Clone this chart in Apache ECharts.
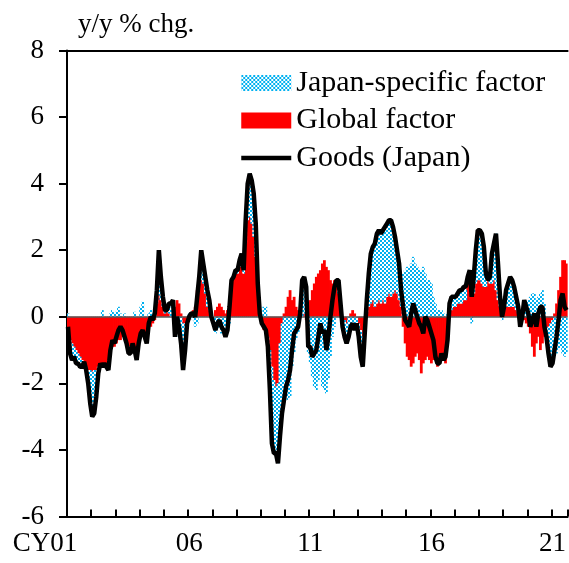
<!DOCTYPE html>
<html>
<head>
<meta charset="utf-8">
<script src="https://cdn.jsdelivr.net/npm/echarts@6/dist/echarts.min.js"></script>
<style>
html,body{margin:0;padding:0;background:#fff;}
#chart{width:569px;height:563px;}
</style>
</head>
<body>
<div id="chart"></div>
<script>
// Monthly, Jan 2001 - Aug 2021, y/y % chg.
const goods = [
 -0.3,-1.1,-1.3,-1.2,-1.4,-1.4,-1.5,-1.5,-1.35,-1.6,-2.0,-2.6,
 -3.0,-2.9,-2.4,-1.7,-1.4,-1.5,-1.4,-1.5,-1.6,-1.0,-0.7,-0.8,
 -0.6,-0.4,-0.3,-0.4,-0.6,-0.8,-1.1,-1.1,-0.8,-1.0,-1.3,-0.8,
 -0.5,-0.4,-0.6,-0.8,-0.2,0.0,-0.1,0.1,0.8,2.0,1.2,0.6,
 0.2,0.2,0.4,0.4,0.5,-0.6,0.0,-0.3,-0.8,-1.6,-1.0,-0.2,
 0.0,0.1,0.1,0.0,0.6,1.2,2.0,1.6,1.2,0.8,0.5,0.0,
 -0.2,-0.4,-0.2,-0.1,-0.3,-0.4,-0.6,-0.4,0.3,1.1,1.2,1.4,
 1.4,1.7,1.9,1.4,2.9,4.0,4.3,4.1,3.7,2.8,1.0,0.1,
 -0.2,-0.3,-0.4,-0.9,-2.2,-3.8,-4.1,-4.1,-4.4,-3.6,-2.9,-2.5,
 -2.1,-1.9,-1.6,-1.0,-0.5,-0.4,-0.3,0.1,1.1,1.2,0.9,-0.9,
 -0.9,-1.2,-1.1,-1.0,-0.6,-0.2,-0.5,-0.4,-1.0,-0.6,0.0,0.5,
 0.9,1.1,1.1,0.4,-0.3,-0.6,-0.8,-0.6,-0.3,-0.2,-0.4,-0.2,
 -0.6,-1.2,-1.5,-0.5,0.5,1.3,1.9,2.1,2.2,2.5,2.6,2.5,
 2.6,2.7,2.8,2.9,2.9,2.7,2.4,2.0,1.6,0.8,0.3,-0.1,
 -0.2,-0.3,0.1,0.4,0.2,0.0,-0.2,-0.3,-0.5,0.0,-0.1,-0.3,
 -0.5,-0.7,-1.2,-1.4,-1.4,-1.1,-1.3,-1.2,-0.7,0.4,0.6,0.6,
 0.6,0.7,0.8,0.8,0.9,0.9,1.2,1.4,0.6,1.2,2.0,2.6,
 2.6,2.5,2.1,1.3,1.1,1.2,1.9,2.2,2.5,1.6,0.6,0.0,
 0.3,0.8,1.0,1.2,1.1,0.9,0.6,0.3,-0.3,0.0,0.5,0.3,
 0.1,-0.3,-0.1,0.1,-0.3,0.1,0.3,0.3,-0.3,-0.6,-1.1,-1.5,
 -1.4,-1.0,-0.6,-0.1,0.5,0.7,0.3,0.2
];
const globalFactor = [
 -0.5,-0.7,-0.8,-0.9,-1.0,-1.1,-1.2,-1.3,-1.4,-1.5,-1.6,-1.6,
 -1.65,-1.6,-1.6,-1.5,-1.4,-1.4,-1.4,-1.4,-1.3,-1.0,-0.9,-0.9,
 -0.8,-0.7,-0.7,-0.6,-0.7,-0.8,-0.9,-0.9,-0.8,-0.9,-1.0,-0.8,
 -0.6,-0.5,-0.5,-0.5,-0.3,-0.3,-0.2,-0.1,0.4,0.65,0.5,0.3,
 0.1,0.2,0.1,0.0,0.1,0.3,0.5,0.4,0.1,-0.2,-0.2,-0.1,
 -0.1,0.0,0.2,0.3,0.8,1.0,1.1,1.0,0.7,0.3,0.2,0.1,
 0.0,0.2,0.3,0.4,0.3,0.2,0.1,0.2,0.6,1.0,1.2,1.3,
 1.3,1.5,1.6,1.3,2.2,2.9,3.0,2.8,2.4,1.8,0.8,0.0,
 -0.2,-0.4,-0.5,-0.6,-1.0,-1.5,-1.9,-2.1,-2.0,-0.8,-0.2,0.1,
 0.3,0.6,0.8,0.5,0.6,0.3,0.2,0.1,0.0,0.1,-0.1,0.2,
 0.5,0.8,1.0,1.2,1.3,1.4,1.6,1.7,1.5,1.4,1.1,1.0,
 1.1,0.9,0.7,0.3,0.0,-0.1,-0.2,0.0,0.1,0.2,0.1,0.0,
 -0.2,-0.4,-0.6,-0.3,0.1,0.3,0.4,0.5,0.3,0.4,0.5,0.4,
 0.5,0.4,0.6,0.7,0.6,0.7,0.8,0.7,0.5,0.3,-0.3,-0.8,
 -1.2,-1.3,-1.5,-1.4,-1.2,-1.1,-1.3,-1.7,-1.4,-1.3,-1.2,-1.3,
 -1.4,-1.3,-1.2,-1.5,-1.4,-1.3,-1.3,-1.4,-0.6,0.0,0.2,0.3,
 0.3,0.4,0.4,0.4,0.5,0.5,1.0,1.1,0.8,0.7,1.0,1.1,
 1.1,1.0,0.9,0.9,1.1,1.0,1.0,1.1,0.8,0.5,0.3,0.2,
 0.2,0.3,0.3,0.3,0.3,0.3,0.2,0.1,0.1,0.0,-0.1,-0.2,
 -0.3,-0.5,-0.9,-1.2,-0.8,-0.6,-1.0,-0.8,-0.6,-0.4,-0.3,-0.2,
 -0.1,0.1,0.4,0.8,1.2,1.7,1.7,1.6
];
const japanFactor = [
 0.1,-0.3,-0.4,-0.4,-0.4,-0.3,-0.3,-0.2,0.0,-0.1,-0.4,-1.0,
 -1.3,-1.3,-0.8,-0.2,0.0,0.2,0.0,-0.1,-0.3,0.1,0.2,0.1,
 0.15,0.3,0.1,0.0,0.1,0.0,-0.2,-0.2,0.0,0.15,-0.3,0.0,
 0.3,0.45,-0.1,-0.2,0.1,0.2,0.1,0.1,0.4,1.2,0.6,0.2,
 0.1,0.0,0.3,0.2,0.3,-0.6,-0.3,-0.6,-0.7,-1.2,-0.6,0.0,
 0.1,0.1,-0.1,-0.3,-0.2,0.2,0.9,0.6,0.5,0.5,0.3,-0.1,
 -0.2,-0.5,-0.4,-0.3,-0.5,-0.5,-0.5,-0.4,-0.2,0.1,0.0,0.1,
 0.1,0.2,0.3,0.1,0.7,1.1,1.3,1.3,1.3,1.0,0.2,0.1,
 0.0,0.3,0.3,-0.3,-1.2,-2.3,-2.2,-2.0,-2.4,-2.8,-2.7,-2.6,
 -2.4,-2.5,-2.4,-1.5,-1.1,-0.7,-0.5,0.0,0.9,1.0,0.8,-1.1,
 -1.4,-1.8,-2.1,-2.2,-1.9,-1.6,-2.1,-2.2,-2.3,-1.9,-1.2,-0.6,
 -0.3,0.1,0.4,0.2,-0.4,-0.5,-0.6,-0.5,-0.3,-0.3,-0.4,-0.2,
 -0.4,-0.8,-0.9,-0.2,0.4,1.0,1.5,1.6,1.9,2.1,2.1,2.1,
 2.1,2.3,2.2,2.2,2.3,2.0,1.6,1.3,1.1,0.9,1.3,1.4,
 1.5,1.5,1.6,1.8,1.6,1.5,1.4,1.4,1.5,1.3,1.1,1.1,
 1.0,0.6,0.4,0.2,0.2,0.2,0.1,0.0,0.1,0.3,0.4,0.3,
 0.3,0.3,0.4,0.4,0.4,0.3,0.2,0.3,-0.2,0.4,1.0,1.5,
 1.5,1.5,1.2,0.4,0.0,0.2,0.9,1.1,1.7,1.1,0.3,-0.1,
 0.1,0.5,0.6,0.8,0.6,0.5,0.4,0.3,-0.3,0.1,0.5,0.5,
 0.5,0.6,0.7,0.7,0.5,0.6,0.7,0.8,0.4,-0.2,-0.8,-1.2,
 -1.2,-1.2,-1.1,-1.0,-0.9,-1.1,-1.2,-1.1
];
const tickLabels = ['CY01', '06', '11', '16', '21'];
const seriesNames = ['Japan-specific factor', 'Global factor', 'Goods (Japan)'];

const months = [];
for (let i = 0; i < goods.length; i++) {
  const y = 2001 + Math.floor(i / 12), m = (i % 12) + 1;
  months.push(y + '-' + (m < 10 ? '0' + m : m));
}

// checkered pattern for Japan-specific factor
const pc = document.createElement('canvas');
pc.width = 4; pc.height = 4;
const pctx = pc.getContext('2d');
pctx.fillStyle = '#ffffff'; pctx.fillRect(0, 0, 4, 4);
pctx.fillStyle = '#00B0F0';
pctx.fillRect(0, 0, 2, 2); pctx.fillRect(2, 2, 2, 2);

const FONT = 'Liberation Serif';
const chart = echarts.init(document.getElementById('chart'), null, {renderer: 'canvas'});
chart.setOption({
  animation: false,
  backgroundColor: '#ffffff',
  grid: {left: 67, right: 0, top: 50.5, bottom: 46.5, containLabel: false},
  legend: {
    orient: 'vertical', left: 234, top: 63, itemWidth: 50, itemHeight: 16, itemGap: 7.5,
    selectedMode: false,
    data: [
      {name: seriesNames[0], icon: 'rect'},
      {name: seriesNames[1], icon: 'rect'},
      {name: seriesNames[2], itemStyle: {opacity: 0, borderWidth: 0}, lineStyle: {color: '#000', width: 4.5}}
    ],
    textStyle: {fontFamily: FONT, fontSize: 30, color: '#000'}
  },
  xAxis: [{
    type: 'category', data: months, boundaryGap: true, position: 'bottom',
    axisLine: {show: true, onZero: false, lineStyle: {color: '#000', width: 2}},
    axisTick: {show: true, inside: true, length: 7, lineStyle: {color: '#000', width: 2},
      interval: function (idx) { return idx % 12 === 0; }},
    axisLabel: {
      show: true, margin: 14, interval: function (idx) { return idx % 60 === 0; },
      formatter: function (v, idx) {
        const k = Math.round(idx / 60);
        return idx === 0 ? '{cy|' + tickLabels[k] + '}' : '{n|' + tickLabels[k] + '}';
      },
      rich: {
        cy: {fontFamily: FONT, fontSize: 27, color: '#000', padding: [0, 46, 0, 0]},
        n: {fontFamily: FONT, fontSize: 27, color: '#000'}
      }
    },
    splitLine: {show: false}
  }, {
    type: 'category', data: months, position: 'top', boundaryGap: true,
    axisLine: {show: true, onZero: false, lineStyle: {color: '#000', width: 2}},
    axisTick: {show: false}, axisLabel: {show: false}, splitLine: {show: false}
  }],
  yAxis: {
    type: 'value', min: -6, max: 8, interval: 2,
    name: 'y/y % chg.', nameLocation: 'end', nameGap: 12,
    nameTextStyle: {fontFamily: FONT, fontSize: 27, color: '#000', align: 'left', padding: [0, 0, 0, 11]},
    axisLine: {show: true, onZero: false, lineStyle: {color: '#000', width: 2}},
    axisTick: {show: true, inside: false, length: 8, lineStyle: {color: '#000', width: 2}},
    axisLabel: {fontFamily: FONT, fontSize: 27, color: '#000', margin: 23},
    splitLine: {show: false}
  },
  series: [{
    name: seriesNames[1], type: 'bar', stack: 'f', stackStrategy: 'samesign',
    data: globalFactor, barWidth: 2.8,
    itemStyle: {color: '#FF0000'},
    markLine: {silent: true, symbol: 'none', label: {show: false},
      lineStyle: {color: '#595959', width: 1.5, type: 'solid'}, data: [{yAxis: 0}]},
    z: 2
  }, {
    name: seriesNames[0], type: 'bar', stack: 'f', stackStrategy: 'samesign',
    data: japanFactor, barWidth: 2.8,
    itemStyle: {color: {image: pc, repeat: 'repeat'}},
    z: 2
  }, {
    name: seriesNames[2], type: 'line', data: goods, symbol: 'none', showSymbol: false,
    lineStyle: {color: '#000', width: 4.5}, itemStyle: {color: '#000'}, z: 5
  }]
});
</script>
</body>
</html>
